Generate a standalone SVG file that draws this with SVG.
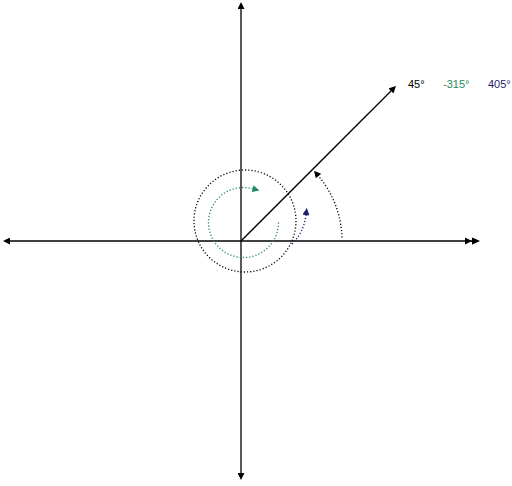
<svg xmlns="http://www.w3.org/2000/svg" width="512" height="486" viewBox="0 0 512 486">
<style>
.axis{stroke:#000;stroke-width:1.3;fill:none}
.dot{stroke-width:1.3;fill:none;stroke-dasharray:1.2 2}
.lbl{font-family:"Liberation Sans",Arial,sans-serif;font-size:11px}
</style>
<defs>
<marker id="ah" viewBox="0 0 10 10" refX="0" refY="5" markerWidth="8" markerHeight="7" markerUnits="userSpaceOnUse" orient="auto"><path d="M0,0 L10,5 L0,10 z" fill="#000"/></marker>
<marker id="ahk" viewBox="0 0 10 10" refX="0" refY="5" markerWidth="8" markerHeight="7" markerUnits="userSpaceOnUse" orient="auto"><path d="M0,0 L10,5 L0,10 z" fill="#000"/></marker>
<marker id="ahg" viewBox="0 0 10 10" refX="0" refY="5" markerWidth="8" markerHeight="7" markerUnits="userSpaceOnUse" orient="auto"><path d="M0,0 L10,5 L0,10 z" fill="#1e8c5e"/></marker>
<marker id="ahn" viewBox="0 0 10 10" refX="0" refY="5" markerWidth="8" markerHeight="7" markerUnits="userSpaceOnUse" orient="auto"><path d="M0,0 L10,5 L0,10 z" fill="#1f1f6e"/></marker>
</defs>
<g id="connectors">
<path class="axis" d="M241 241 L472 241" marker-end="url(#ah)"/>
<path d="M465 237.5 L472 241 L465 244.5 z M472 237.5 L480 241 L472 244.5 z" fill="#000"/>
<path class="axis" d="M241 241 L10 241" marker-end="url(#ah)"/>
<path class="axis" d="M241 241 L241 9" marker-end="url(#ah)"/>
<path class="axis" d="M241 241 L241 473" marker-end="url(#ah)"/>
<path class="axis" d="M241 241 L391 91" marker-end="url(#ah)"/>
<path class="dot" stroke="#000" d="M342 237.5 A101 101 0 0 0 318.5 176" marker-end="url(#ahk)"/>
<path class="dot" stroke="#1e8c5e" d="M278.5 222.5 A35 35 0 1 1 252.6 188.7" marker-end="url(#ahg)"/>
<circle class="dot" stroke="#000" cx="245" cy="221" r="51"/>
<path class="dot" stroke="#1f1f6e" d="M292 244 Q304 232 306 215" marker-end="url(#ahn)"/>
</g>
<g id="labels">
<text class="lbl" x="408" y="88" fill="#000">45°</text>
<text class="lbl" x="443" y="88" fill="#1e8c5e">-315°</text>
<text class="lbl" x="488" y="88" fill="#1f1f6e">405°</text>
</g>
</svg>
